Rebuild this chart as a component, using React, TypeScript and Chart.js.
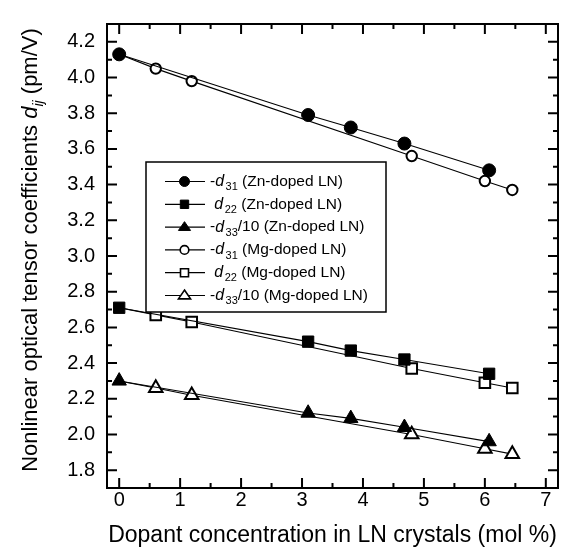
import React, { useEffect, useRef } from "react";
import { Chart, registerables } from "chart.js";

Chart.register(...registerables);

// ---- data ----
const xTicks = [0, 1, 2, 3, 4, 5, 6, 7];
const yTicks = [1.8, 2.0, 2.2, 2.4, 2.6, 2.8, 3.0, 3.2, 3.4, 3.6, 3.8, 4.0, 4.2];

const znConc = [0, 3.1, 3.8, 4.68, 6.07];
const znD31 = [4.13, 3.79, 3.72, 3.63, 3.48];
const znD22 = [2.71, 2.52, 2.47, 2.42, 2.34];
const znD33 = [2.3, 2.12, 2.09, 2.04, 1.96];

const mgConc = [0, 0.6, 1.19, 4.8, 6.0, 6.45];
const mgD31 = [4.13, 4.05, 3.98, 3.56, 3.42, 3.37];
const mgD22 = [2.71, 2.67, 2.63, 2.37, 2.29, 2.26];
const mgD33 = [2.3, 2.26, 2.22, 2.0, 1.92, 1.89];

// legend: [prefix, subscript, after-subscript, suffix]
const legendEntries: [string, string, string, string][] = [
  ["-", "31", "", " (Zn-doped LN)"],
  [" ", "22", "", " (Zn-doped LN)"],
  ["-", "33", "/10", " (Zn-doped LN)"],
  ["-", "31", "", " (Mg-doped LN)"],
  [" ", "22", "", " (Mg-doped LN)"],
  ["-", "33", "/10", " (Mg-doped LN)"],
];
const legendStyles: [string, boolean][] = [
  ["circle", true],
  ["rect", true],
  ["triangle", true],
  ["circle", false],
  ["rect", false],
  ["triangle", false],
];

const xTitle = "Dopant concentration in LN crystals (mol %)";
const yTitleRuns = [
  { text: "Nonlinear optical tensor coefficients ", italic: false, sub: false },
  { text: "d", italic: true, sub: false },
  { text: "ij", italic: true, sub: true },
  { text: " (pm/V)", italic: false, sub: false },
];

const FONT = "'Liberation Sans', Arial, Helvetica, sans-serif";

type Run = { text: string; italic: boolean; sub: boolean; size?: number; gap?: number };

function drawRuns(ctx: CanvasRenderingContext2D, x: number, y: number, runs: Run[], size: number, draw = true) {
  let cx = x;
  for (const r of runs) {
    const s = r.size ?? (r.sub ? size * 0.64 : size);
    ctx.font = `${r.italic ? "italic " : ""}${s}px ${FONT}`;
    if (draw) ctx.fillText(r.text, cx, y + (r.sub ? size * 0.36 : 0));
    cx += ctx.measureText(r.text).width + (r.gap ?? 0);
  }
  return cx - x;
}

function drawMarker(ctx: CanvasRenderingContext2D, style: string, filled: boolean, x: number, y: number, r: number) {
  ctx.beginPath();
  if (style === "circle") {
    ctx.arc(x, y, r, 0, Math.PI * 2);
  } else if (style === "rect") {
    ctx.rect(x - r, y - r, 2 * r, 2 * r);
  } else {
    const h = r * 1.6;
    ctx.moveTo(x, y - h * 0.62);
    ctx.lineTo(x + r * 1.1, y + h * 0.38);
    ctx.lineTo(x - r * 1.1, y + h * 0.38);
    ctx.closePath();
  }
  ctx.fillStyle = filled ? "#000" : "#fff";
  ctx.fill();
  ctx.lineWidth = filled ? 1 : 1.6;
  ctx.strokeStyle = "#000";
  ctx.stroke();
}

const framePlugin = {
  id: "frameTicks",
  afterDraw(chart: any) {
    const { ctx, chartArea } = chart;
    const { left, right, top, bottom } = chartArea;
    const xs = chart.scales.x;
    const ys = chart.scales.y;
    ctx.save();
    ctx.strokeStyle = "#000";
    ctx.lineWidth = 2;
    ctx.strokeRect(left, top, right - left, bottom - top);

    const xMinor: number[] = [];
    for (let i = 0; i < xTicks.length - 1; i++) xMinor.push((xTicks[i] + xTicks[i + 1]) / 2);
    const yMinor: number[] = [];
    for (let i = 0; i < yTicks.length - 1; i++) yMinor.push((yTicks[i] + yTicks[i + 1]) / 2);

    const tickX = (v: number, len: number) => {
      const p = xs.getPixelForValue(v);
      ctx.beginPath();
      ctx.moveTo(p, bottom);
      ctx.lineTo(p, bottom - len);
      ctx.moveTo(p, top);
      ctx.lineTo(p, top + len);
      ctx.stroke();
    };
    const tickY = (v: number, len: number) => {
      const p = ys.getPixelForValue(v);
      ctx.beginPath();
      ctx.moveTo(left, p);
      ctx.lineTo(left + len, p);
      ctx.moveTo(right, p);
      ctx.lineTo(right - len, p);
      ctx.stroke();
    };
    xTicks.forEach((v) => tickX(v, 10));
    xMinor.forEach((v) => tickX(v, 5));
    yTicks.forEach((v) => tickY(v, 10));
    yMinor.forEach((v) => tickY(v, 5));

    // legend
    const bx = left + 39;
    const by = top + 138;
    const bw = 240;
    const bh = 150;
    ctx.fillStyle = "#fff";
    ctx.fillRect(bx, by, bw, bh);
    ctx.lineWidth = 1.5;
    ctx.strokeRect(bx, by, bw, bh);
    const rowH = 22.8;
    legendEntries.forEach((e, i) => {
      const cy = by + 19.5 + i * rowH;
      ctx.beginPath();
      ctx.lineWidth = 1.2;
      ctx.moveTo(bx + 19, cy);
      ctx.lineTo(bx + 59, cy);
      ctx.stroke();
      const [st, filled] = legendStyles[i];
      const r = st === "circle" ? (filled ? 5 : 4.3) : st === "rect" ? (filled ? 4.2 : 4) : 5.5;
      drawMarker(ctx, st, filled, bx + 38.5, cy, r);
      ctx.fillStyle = "#000";
      ctx.textBaseline = "middle";
      ctx.textAlign = "left";
      drawRuns(
        ctx,
        bx + 64,
        cy,
        [
          { text: e[0], italic: false, sub: false },
          { text: "d", italic: true, sub: false, size: 16, gap: 1.5 },
          { text: e[1], italic: false, sub: true, size: 11 },
          { text: e[2], italic: false, sub: false },
          { text: e[3], italic: false, sub: false },
        ],
        15.5
      );
    });

    // y-axis title
    ctx.save();
    ctx.translate(31, (top + bottom) / 2 - 6);
    ctx.rotate(-Math.PI / 2);
    ctx.fillStyle = "#000";
    ctx.textBaseline = "middle";
    ctx.textAlign = "left";
    const w = drawRuns(ctx, 0, 0, yTitleRuns, 22, false);
    drawRuns(ctx, -w / 2, 0, yTitleRuns, 22, true);
    ctx.restore();

    ctx.restore();
  },
};

function pts(xs: number[], ys: number[]) {
  return xs.map((x, i) => ({ x, y: ys[i] }));
}

export default function App() {
  const ref = useRef<HTMLCanvasElement | null>(null);
  useEffect(() => {
    document.body.style.margin = "0";
    const canvas = ref.current!;
    const base = { showLine: true, borderColor: "#000", borderWidth: 1.1, tension: 0 };
    const hideFirst = (r: number) => (c: any) => (c.dataIndex === 0 ? 0 : r);
    const chart = new Chart(canvas, {
      type: "scatter",
      data: {
        datasets: [
          { ...base, label: "-d31 (Zn-doped LN)", data: pts(znConc, znD31), pointStyle: "circle", pointRadius: 6.5, pointBackgroundColor: "#000", pointBorderColor: "#000", pointBorderWidth: 1 },
          { ...base, label: "d22 (Zn-doped LN)", data: pts(znConc, znD22), pointStyle: "rect", pointRadius: 8, pointBackgroundColor: "#000", pointBorderColor: "#000", pointBorderWidth: 1 },
          { ...base, label: "-d33/10 (Zn-doped LN)", data: pts(znConc, znD33), pointStyle: "triangle", pointRadius: 8.3, pointBackgroundColor: "#000", pointBorderColor: "#000", pointBorderWidth: 1 },
          { ...base, label: "-d31 (Mg-doped LN)", data: pts(mgConc, mgD31), pointStyle: "circle", pointRadius: hideFirst(5.2), pointBackgroundColor: "#fff", pointBorderColor: "#000", pointBorderWidth: 2 },
          { ...base, label: "d22 (Mg-doped LN)", data: pts(mgConc, mgD22), pointStyle: "rect", pointRadius: hideFirst(7.5), pointBackgroundColor: "#fff", pointBorderColor: "#000", pointBorderWidth: 2 },
          { ...base, label: "-d33/10 (Mg-doped LN)", data: pts(mgConc, mgD33), pointStyle: "triangle", pointRadius: hideFirst(7.8), pointBackgroundColor: "#fff", pointBorderColor: "#000", pointBorderWidth: 2 },
        ],
      },
      options: {
        animation: false,
        responsive: false,
        devicePixelRatio: 1,
        layout: { padding: { top: 10, right: 12, left: 0, bottom: 0 } },
        plugins: { legend: { display: false }, tooltip: { enabled: false } },
        scales: {
          x: {
            type: "linear",
            min: -0.2,
            max: 7.2,
            grid: { display: false, drawTicks: false },
            border: { display: false },
            afterBuildTicks: (s: any) => {
              s.ticks = xTicks.map((v) => ({ value: v }));
            },
            afterFit: (s: any) => {
              s.height = 67;
            },
            ticks: {
              padding: 0,
              color: "#000",
              font: { family: FONT, size: 20 },
              callback: (v: any) => String(v),
            },
            title: {
              display: true,
              text: xTitle,
              color: "#000",
              font: { family: FONT, size: 23 },
              padding: { top: 0, bottom: 6 },
            },
          },
          y: {
            type: "linear",
            min: 1.7,
            max: 4.3,
            grid: { display: false, drawTicks: false },
            border: { display: false },
            afterBuildTicks: (s: any) => {
              s.ticks = yTicks.map((v) => ({ value: v }));
            },
            afterFit: (s: any) => {
              s.width = 107;
            },
            ticks: {
              padding: 12,
              color: "#000",
              font: { family: FONT, size: 20 },
              callback: (v: any) => Number(v).toFixed(1),
            },
          },
        },
      },
      plugins: [framePlugin],
    } as any);
    return () => chart.destroy();
  }, []);
  return <canvas ref={ref} width={570} height={555} style={{ display: "block" }} />;
}
